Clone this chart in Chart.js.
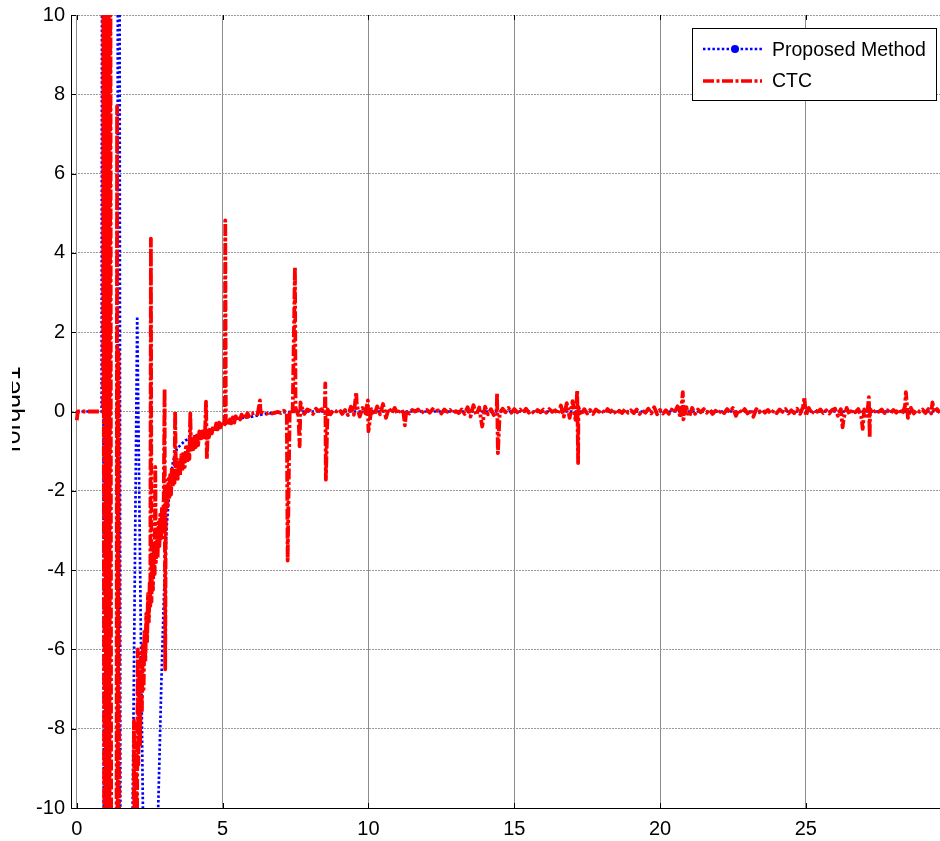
<!DOCTYPE html>
<html>
<head>
<meta charset="utf-8">
<title>Torque1</title>
<script src="https://cdn.jsdelivr.net/npm/chart.js@4.4.1/dist/chart.umd.min.js"></script>
<style>
  html, body { margin: 0; padding: 0; background: #fff; }
  canvas { display: block; }
</style>
</head>
<body>
<canvas id="torqueChart" width="940" height="841"></canvas>
<script>
// axis ranges and tick spacing
const timeRange = [-0.2, 29.6];
const torqueRange = [-10, 10];
const timeStep = 5;
const torqueStep = 2;

// Proposed method: start-up oscillation, then a smooth decay to zero
const propTime = [0, 0.85, 0.87, 0.9, 0.93, 1.38, 1.41, 1.46, 1.5, 1.84, 2.07, 2.36, 2.72, 2.79, 2.9,
  2.98, 3.08, 3.2, 3.3, 3.43, 3.72, 4.12, 4.68, 5.03, 5.49, 5.94, 6.5, 7.5, 29.6];
const propTorque = [0, 0, 16, 16, -16, -16, 16, 16, -16, -16, 2.4, -16, -16, -10, -6.8,
  -4.8, -2.9, -1.78, -1.25, -0.94, -0.73, -0.6, -0.44, -0.27, -0.18, -0.14, -0.05, 0, 0];

// CTC start-up transient (0 - 6 s)
const ctcEarlyTime = [0, 0.03, 0.9, 0.91, 0.94, 0.97, 1.0, 1.03, 1.06, 1.09, 1.12, 1.15, 1.18, 1.36,
  1.38, 1.40, 1.43, 1.46, 1.93, 1.96, 1.99, 2.03, 2.06, 2.09, 2.11, 2.14, 2.17, 2.2, 2.23, 2.26, 2.29,
  2.32, 2.35, 2.38, 2.41, 2.44, 2.47, 2.5, 2.52, 2.54, 2.56, 2.58, 2.61, 2.64, 2.67, 2.69, 2.71, 2.74,
  2.77, 2.8, 2.83, 2.86, 2.89, 2.92, 2.95, 2.98, 3.01, 3.03, 3.05, 3.08, 3.11, 3.14, 3.17, 3.2, 3.23,
  3.26, 3.29, 3.32, 3.35, 3.37, 3.4, 3.43, 3.46, 3.5, 3.54, 3.58, 3.62, 3.66, 3.7, 3.74, 3.78, 3.82,
  3.86, 3.89, 3.92, 3.96, 4.0, 4.04, 4.08, 4.12, 4.16, 4.2, 4.25, 4.3, 4.35, 4.4, 4.43, 4.46, 4.49,
  4.53, 4.58, 4.63, 4.68, 4.73, 4.78, 4.83, 4.88, 4.93, 4.98, 5.03, 5.07, 5.09, 5.11, 5.15, 5.2, 5.25,
  5.3, 5.35, 5.4, 5.45, 5.5, 5.55, 5.6, 5.65, 5.7, 5.75, 5.8, 5.85, 5.9, 5.95];
const ctcEarlyTorque = [-0.22, 0, 0, 14, -14, 14, -14, 14, -14, 14, -14, 14, -14, -14,
  7.7, -14, 1.5, -14, -14, -7.8, -12, -8.6, -11, -6.0, -8.9, -6.6, -8.4, -6.1, -7.6, -5.9, -7.0,
  -5.5, -6.3, -5.1, -5.8, -4.6, -5.3, -4.3, -4.9, 4.36, -4.8, -3.9, -4.5, -3.4, -4.1, -1.4, -3.8, -3.0,
  -3.7, -2.8, -3.4, -2.6, -3.2, -2.4, -2.9, -2.2, 0.57, -6.5, -2.5, -1.9, -2.4, -1.7, -2.2, -1.6, -2.1,
  -1.4, -1.9, -1.5, -1.8, 0.0, -1.7, -1.2, -1.7, -1.3, -1.6, -1.1, -1.5, -1.0, -1.4, -0.9, -1.3, -0.85,
  -1.2, -0.05, -1.0, -0.7, -0.95, -0.6, -0.9, -0.6, -0.85, -0.5, -0.75, -0.5, -0.7, -0.45, 0.25, -1.2, -0.5,
  -0.65, -0.4, -0.55, -0.35, -0.5, -0.3, -0.45, -0.28, -0.4, -0.25, -0.38, -0.3, 4.82, -0.3, -0.22, -0.35, -0.2,
  -0.3, -0.15, -0.28, -0.12, -0.22, -0.1, -0.2, -0.08, -0.18, -0.06, -0.14, -0.04, -0.12, -0.05];

// CTC steady state, one sample every 0.1 s from 6.0 s to 29.6 s
const ctcSteadyStart = 6.0;
const ctcSteadyStep = 0.1;
const ctcSteady = [
  -0.05, -0.03, -0.07, -0.01, -0.04, -0.06, -0.02, -0.05, -0.03, -0.01,
  -0.04, 0.02, -0.03, 0.04, -0.07, 0.09, -0.11, 0.13, -0.06, 0.05,
  0.02, -0.06, 0.07, 0.01, 0.06, -0.04, 0.05, -0.07, 0.04, 0.00,
  0.05, -0.06, 0.04, -0.09, 0.12, -0.08, 0.17, -0.13, 0.09, -0.05,
  -0.50, 0.06, -0.09, 0.13, -0.07, 0.19, -0.16, 0.08, -0.04, 0.09,
  -0.06, 0.05, -0.02, 0.03, -0.05, 0.04, 0.00, 0.05, -0.04, 0.01,
  0.04, -0.03, 0.06, 0.00, 0.03, -0.05, 0.05, -0.01, 0.04, -0.04,
  0.01, -0.04, 0.05, -0.06, 0.11, -0.13, 0.16, -0.09, 0.10, -0.38,
  0.12, -0.07, 0.06, -0.09, 0.04, -0.05, 0.07, -0.02, 0.09, -0.03,
  0.06, -0.02, 0.05, -0.04, 0.07, -0.03, 0.02, -0.06, 0.04, -0.02,
  0.05, -0.03, 0.06, -0.01, 0.03, -0.06, 0.15, -0.13, 0.21, -0.16,
  0.26, -0.21, 0.11, -0.09, 0.06, -0.05, 0.04, -0.06, 0.05, -0.01,
  0.04, -0.05, 0.06, -0.01, 0.05, -0.07, 0.02, -0.04, 0.06, -0.03,
  0.03, -0.04, 0.05, -0.06, 0.02, -0.03, 0.07, -0.05, 0.11, -0.07,
  0.04, -0.05, 0.03, -0.06, 0.05, -0.02, 0.13, -0.16, -0.20, 0.11,
  -0.13, 0.09, -0.06, 0.05, -0.02, 0.06, -0.03, 0.05, -0.06, 0.02,
  -0.05, 0.03, -0.04, 0.06, -0.01, 0.09, -0.11, 0.05, -0.04, 0.06,
  -0.05, 0.04, -0.13, 0.06, -0.02, 0.05, -0.03, 0.04, -0.06, 0.03,
  -0.04, 0.05, -0.01, 0.06, -0.05, 0.03, -0.04, 0.07, -0.06, 0.11,
  -0.11, 0.09, -0.05, 0.04, -0.01, 0.05, -0.04, 0.03, -0.05, 0.04,
  0.07, -0.11, 0.06, -0.16, 0.09, -0.07, 0.05, -0.02, 0.06, -0.13,
  0.05, -0.11, 0.06, -0.05, 0.04, -0.01, 0.05, -0.04, 0.03, -0.05,
  0.04, -0.03, 0.06, -0.07, 0.13, -0.16, 0.09, -0.05, 0.04, -0.01,
  0.05, -0.04, 0.06, -0.05, -0.02, 0.06, -0.03
];

// isolated CTC spikes during the steady state
const ctcSpikeTime = [6.28, 7.23, 7.48, 7.64, 7.67, 8.52, 8.54, 9.58, 9.98, 11.25, 14.41, 14.44,
  17.16, 17.19, 20.78, 24.95, 26.26, 26.95, 27.16, 27.19, 28.43, 29.34];
const ctcSpikeTorque = [0.28, -3.76, 3.64, -0.88, 0.23, 0.71, -1.72, 0.49, 0.28, -0.35, 0.46, -1.05,
  0.53, -1.30, 0.49, 0.36, -0.40, -0.44, 0.36, -0.65, 0.49, 0.23];

const seriesNames = ['Proposed Method', 'CTC'];

const FONT = '"Liberation Sans", Arial, sans-serif';

const propPoints = propTime.map((t, i) => ({ x: t, y: propTorque[i] }));
const ctcPoints = ctcEarlyTime.map((t, i) => ({ x: t, y: ctcEarlyTorque[i] }))
  .concat(ctcSteady.map((v, i) => ({ x: +(ctcSteadyStart + i * ctcSteadyStep).toFixed(2), y: v })))
  .concat(ctcSpikeTime.map((t, i) => ({ x: t, y: ctcSpikeTorque[i] })))
  .sort((a, b) => a.x - b.x);

const BLUE_DASH = [2.5, 2.2];
const RED_DASH = [11, 2.5, 3, 2.5];

// MATLAB style ticks pointing into the plot
const innerTicks = {
  id: 'innerTicks',
  afterDatasetsDraw(chart) {
    const { ctx, chartArea: a, scales: { x, y } } = chart;
    ctx.save();
    ctx.strokeStyle = '#000';
    ctx.lineWidth = 1;
    ctx.beginPath();
    x.ticks.forEach((t) => {
      const px = Math.round(x.getPixelForValue(t.value)) + 0.5;
      ctx.moveTo(px, a.bottom);
      ctx.lineTo(px, a.bottom - 5);
      ctx.moveTo(px, a.top);
      ctx.lineTo(px, a.top + 5);
    });
    y.ticks.forEach((t) => {
      const py = Math.round(y.getPixelForValue(t.value)) + 0.5;
      ctx.moveTo(a.left, py);
      ctx.lineTo(a.left + 5, py);
    });
    ctx.stroke();
    ctx.restore();
  },
};

// y label sits at the very edge of the figure, half cut off
const yLabel = {
  id: 'yLabel',
  afterDraw(chart) {
    const { ctx, chartArea: a } = chart;
    ctx.save();
    ctx.beginPath();
    ctx.rect(12, 0, 30, chart.height);
    ctx.clip();
    ctx.translate(20, (a.top + a.bottom) / 2);
    ctx.rotate(-Math.PI / 2);
    ctx.font = `25px ${FONT}`;
    ctx.textAlign = 'center';
    ctx.textBaseline = 'alphabetic';
    ctx.fillStyle = '#000';
    ctx.fillText('Torque1', 0, 0);
    ctx.restore();
  },
};

// boxed legend in the top right corner
const boxLegend = {
  id: 'boxLegend',
  afterDraw(chart) {
    const { ctx } = chart;
    ctx.save();
    ctx.fillStyle = '#fff';
    ctx.fillRect(692, 28, 244, 72);
    ctx.strokeStyle = '#000';
    ctx.lineWidth = 1;
    ctx.strokeRect(692.5, 28.5, 244, 72);

    ctx.strokeStyle = '#0000ff';
    ctx.lineWidth = 2.7;
    ctx.setLineDash(BLUE_DASH);
    ctx.beginPath();
    ctx.moveTo(703, 49);
    ctx.lineTo(762, 49);
    ctx.stroke();
    ctx.setLineDash([]);
    ctx.fillStyle = '#0000ff';
    ctx.beginPath();
    ctx.arc(735, 49, 4, 0, Math.PI * 2);
    ctx.fill();

    ctx.strokeStyle = '#ff0000';
    ctx.lineWidth = 3.6;
    ctx.setLineDash(RED_DASH);
    ctx.beginPath();
    ctx.moveTo(703, 81);
    ctx.lineTo(762, 81);
    ctx.stroke();
    ctx.setLineDash([]);

    ctx.fillStyle = '#000';
    ctx.font = `19.5px ${FONT}`;
    ctx.textAlign = 'left';
    ctx.textBaseline = 'middle';
    ctx.fillText(seriesNames[0], 772, 51);
    ctx.fillText(seriesNames[1], 772, 82);
    ctx.restore();
  },
};

new Chart(document.getElementById('torqueChart').getContext('2d'), {
  type: 'line',
  data: {
    datasets: [
      {
        label: seriesNames[1],
        data: ctcPoints,
        borderColor: '#ff0000',
        borderWidth: 3.8,
        borderDash: RED_DASH,
        borderJoinStyle: 'round',
        pointRadius: 0,
        tension: 0,
        order: 1,
      },
      {
        label: seriesNames[0],
        data: propPoints,
        borderColor: '#0000ff',
        borderWidth: 2.7,
        borderDash: BLUE_DASH,
        borderJoinStyle: 'round',
        pointRadius: 0,
        tension: 0,
        order: 2,
      },
    ],
  },
  options: {
    responsive: false,
    animation: false,
    layout: { padding: { top: 15, right: 0, bottom: 0, left: 0 } },
    plugins: {
      legend: { display: false },
      tooltip: { enabled: false },
    },
    scales: {
      x: {
        type: 'linear',
        min: timeRange[0],
        max: timeRange[1],
        afterFit: (scale) => {
          scale.height = 33;
          scale.paddingLeft = 0;
          scale.paddingRight = 0;
        },
        ticks: {
          stepSize: timeStep,
          includeBounds: false,
          padding: 9,
          color: '#000',
          font: { family: FONT, size: 20 },
        },
        grid: { color: '#8c8c8c', lineWidth: 1, drawTicks: false },
        border: { color: '#000', width: 1 },
      },
      y: {
        type: 'linear',
        min: torqueRange[0],
        max: torqueRange[1],
        afterFit: (scale) => {
          scale.width = 71;
          scale.paddingTop = 0;
          scale.paddingBottom = 0;
        },
        ticks: {
          stepSize: torqueStep,
          padding: 6,
          color: '#000',
          font: { family: FONT, size: 20 },
        },
        grid: { color: '#9a9a9a', lineWidth: 1, drawTicks: false },
        border: { color: '#000', width: 1, dash: [2, 1] },
      },
    },
  },
  plugins: [innerTicks, yLabel, boxLegend],
});
</script>
</body>
</html>
